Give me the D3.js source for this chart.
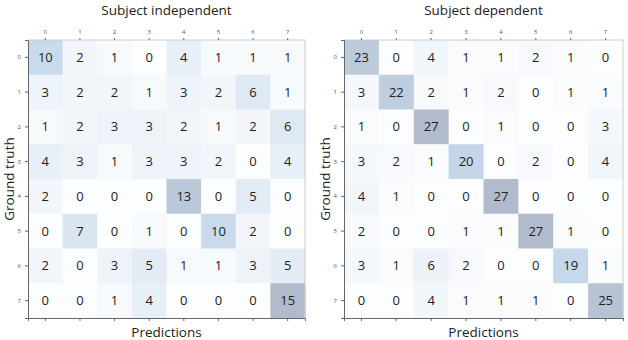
<!DOCTYPE html>
<html>
<head>
<meta charset="utf-8">
<script src="https://cdn.jsdelivr.net/npm/d3@7"></script>
<style>
  body { margin: 0; background: #fff; }
  text { font-family: "Open Sans", sans-serif; }
  .tick text { fill: #555; font-size: 6px; }
  .tick line { stroke: #666; }
</style>
</head>
<body>
<div id="chart"></div>
<script>
// classes 0..7, rows = ground truth, cols = predictions
var classes = [0, 1, 2, 3, 4, 5, 6, 7];

var independentTitle = "Subject independent";
var independentValues = [
  [10, 2, 1, 0, 4, 1, 1, 1],
  [3, 2, 2, 1, 3, 2, 6, 1],
  [1, 2, 3, 3, 2, 1, 2, 6],
  [4, 3, 1, 3, 3, 2, 0, 4],
  [2, 0, 0, 0, 13, 0, 5, 0],
  [0, 7, 0, 1, 0, 10, 2, 0],
  [2, 0, 3, 5, 1, 1, 3, 5],
  [0, 0, 1, 4, 0, 0, 0, 15]
];

var dependentTitle = "Subject dependent";
var dependentValues = [
  [23, 0, 4, 1, 1, 2, 1, 0],
  [3, 22, 2, 1, 2, 0, 1, 1],
  [1, 0, 27, 0, 1, 0, 0, 3],
  [3, 2, 1, 20, 0, 2, 0, 4],
  [4, 1, 0, 0, 27, 0, 0, 0],
  [2, 0, 0, 1, 1, 27, 1, 0],
  [3, 1, 6, 2, 0, 0, 19, 1],
  [0, 0, 4, 1, 1, 1, 0, 25]
];

var svg = d3.select("#chart").append("svg")
  .attr("width", 628)
  .attr("height", 340);

function drawMatrix(values, title, left, right) {
  var top = 40, bottom = 318;
  var x = d3.scaleBand().domain(classes).range([left, right]);
  var y = d3.scaleBand().domain(classes).range([top, bottom]);
  var maxV = d3.max(values, r => d3.max(r));
  var color = d3.scaleLinear()
    .domain([0, 0.3, 0.7, 1])
    .range(["#fcfdfe", "#e6eef6", "#c6d9ea", "#b2bbcb"]);

  var g = svg.append("g");
  var cells = [];
  values.forEach((row, i) => row.forEach((v, j) => cells.push({r: i, c: j, v: v})));

  g.selectAll("rect.cell")
    .data(cells)
    .enter().append("rect")
    .attr("class", "cell")
    .attr("x", d => x(d.c))
    .attr("y", d => y(d.r))
    .attr("width", x.bandwidth() + 0.5)
    .attr("height", y.bandwidth() + 0.5)
    .attr("fill", d => color(d.v / maxV));

  g.selectAll("text.val")
    .data(cells)
    .enter().append("text")
    .attr("class", "val")
    .attr("x", d => x(d.c) + x.bandwidth() / 2)
    .attr("y", d => y(d.r) + y.bandwidth() / 2)
    .attr("dy", "0.35em")
    .attr("text-anchor", "middle")
    .attr("font-size", 13)
    .attr("fill", "#222")
    .text(d => d.v);

  // frame: light top/right, dark left/bottom
  g.append("line").attr("x1", left).attr("x2", right).attr("y1", top).attr("y2", top)
    .attr("stroke", "#ccc");
  g.append("line").attr("x1", right).attr("x2", right).attr("y1", top).attr("y2", bottom)
    .attr("stroke", "#ccc");

  var topAxis = d3.axisTop(x).tickSize(2).tickPadding(4);
  var leftAxis = d3.axisLeft(y).tickSize(3).tickPadding(4);
  var bottomAxis = d3.axisBottom(x).tickSize(3).tickFormat("");

  g.append("g").attr("transform", `translate(0, ${top})`).call(topAxis)
    .call(a => a.select(".domain").remove());
  g.append("g").attr("transform", `translate(${left}, 0)`).call(leftAxis)
    .call(a => a.select(".domain").attr("stroke", "#666"));
  g.append("g").attr("transform", `translate(0, ${bottom})`).call(bottomAxis)
    .call(a => a.select(".domain").attr("stroke", "#666"));

  var cx = (left + right) / 2;
  g.append("text")
    .attr("x", cx).attr("y", 15)
    .attr("text-anchor", "middle")
    .attr("font-size", 13.5)
    .attr("fill", "#222")
    .text(title);
  g.append("text")
    .attr("x", cx).attr("y", 337)
    .attr("text-anchor", "middle")
    .attr("font-size", 13.5)
    .attr("fill", "#222")
    .text("Predictions");
  g.append("text")
    .attr("transform", `translate(${left - 14}, ${(top + bottom) / 2}) rotate(-90)`)
    .attr("text-anchor", "middle")
    .attr("font-size", 13.5)
    .attr("fill", "#222")
    .text("Ground truth");
}

drawMatrix(independentValues, independentTitle, 28, 305);
drawMatrix(dependentValues, dependentTitle, 344, 623);
</script>
</body>
</html>
